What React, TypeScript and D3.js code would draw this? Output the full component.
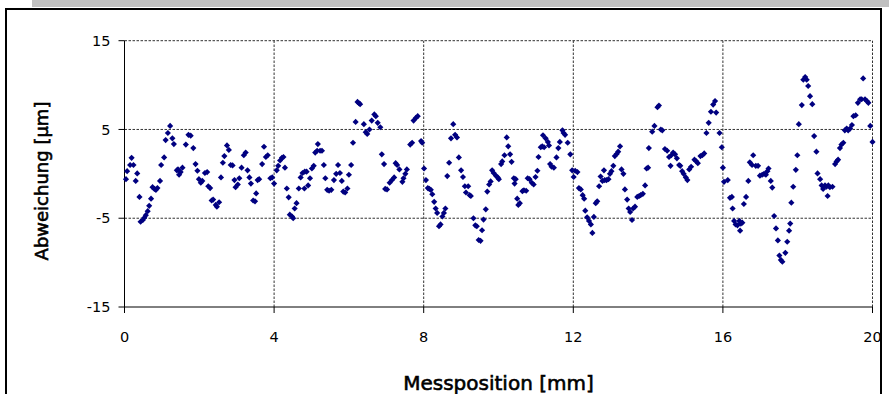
import React from "react";
import * as d3 from "d3";

const positions: number[] = [
  0.04, 0.07, 0.15, 0.19, 0.24, 0.30, 0.34, 0.40, 0.43, 0.49, 0.53, 0.57, 0.62, 0.66, 0.71, 0.75, 0.80, 0.84, 0.88, 0.95,
  0.98, 1.06, 1.10, 1.16, 1.22, 1.28, 1.32, 1.40, 1.43, 1.46, 1.50, 1.55, 1.64, 1.71, 1.77, 1.84, 1.90, 1.95, 1.99, 2.04,
  2.08, 2.15, 2.21, 2.24, 2.29, 2.33, 2.37, 2.44, 2.47, 2.53, 2.58, 2.63, 2.67, 2.74, 2.79, 2.84, 2.89, 2.94, 2.97, 3.03,
  3.07, 3.13, 3.19, 3.24, 3.29, 3.34, 3.38, 3.44, 3.49, 3.52, 3.56, 3.60, 3.68, 3.73, 3.78, 3.83, 3.90, 3.95, 4.00, 4.07,
  4.11, 4.16, 4.21, 4.25, 4.29, 4.34, 4.39, 4.42, 4.48, 4.51, 4.55, 4.60, 4.66, 4.71, 4.76, 4.81, 4.82, 4.87, 4.91, 4.96,
  5.01, 5.06, 5.10, 5.15, 5.17, 5.23, 5.28, 5.33, 5.37, 5.42, 5.47, 5.53, 5.60, 5.66, 5.71, 5.76, 5.81, 5.85, 5.90, 5.96,
  6.00, 6.06, 6.11, 6.18, 6.23, 6.27, 6.30, 6.40, 6.45, 6.49, 6.55, 6.61, 6.68, 6.72, 6.77, 6.84, 6.88, 6.94, 6.97, 7.02,
  7.09, 7.15, 7.21, 7.25, 7.29, 7.35, 7.43, 7.46, 7.51, 7.55, 7.64, 7.69, 7.73, 7.79, 7.84, 7.93, 7.96, 8.01, 8.06, 8.11,
  8.15, 8.19, 8.23, 8.28, 8.32, 8.36, 8.41, 8.45, 8.50, 8.54, 8.58, 8.63, 8.68, 8.73, 8.79, 8.84, 8.89, 8.94, 9.00, 9.05,
  9.10, 9.13, 9.19, 9.23, 9.26, 9.33, 9.38, 9.42, 9.47, 9.52, 9.56, 9.60, 9.66, 9.70, 9.75, 9.79, 9.83, 9.87, 9.93, 9.98,
  10.01, 10.07, 10.10, 10.16, 10.22, 10.26, 10.31, 10.35, 10.41, 10.43, 10.46, 10.50, 10.53, 10.57, 10.64, 10.68, 10.74, 10.78, 10.83, 10.89,
  10.94, 10.99, 11.04, 11.07, 11.13, 11.17, 11.19, 11.22, 11.26, 11.32, 11.35, 11.38, 11.42, 11.48, 11.55, 11.60, 11.64, 11.71, 11.74, 11.78,
  11.85, 11.92, 11.97, 12.01, 12.05, 12.11, 12.15, 12.20, 12.25, 12.29, 12.32, 12.37, 12.42, 12.47, 12.51, 12.55, 12.60, 12.64, 12.69, 12.73,
  12.78, 12.82, 12.84, 12.89, 12.94, 12.98, 13.02, 13.07, 13.11, 13.16, 13.20, 13.25, 13.29, 13.34, 13.38, 13.44, 13.48, 13.52, 13.57, 13.60,
  13.65, 13.71, 13.76, 13.80, 13.86, 13.92, 13.96, 14.00, 14.02, 14.11, 14.17, 14.25, 14.29, 14.34, 14.38, 14.45, 14.51, 14.56, 14.60, 14.62,
  14.67, 14.72, 14.77, 14.83, 14.86, 14.91, 14.95, 15.01, 15.05, 15.10, 15.15, 15.24, 15.28, 15.33, 15.40, 15.45, 15.50, 15.56, 15.62, 15.68,
  15.74, 15.79, 15.82, 15.91, 15.97, 16.00, 16.03, 16.13, 16.19, 16.24, 16.26, 16.30, 16.34, 16.39, 16.44, 16.46, 16.48, 16.52, 16.56, 16.62,
  16.68, 16.72, 16.78, 16.81, 16.88, 16.94, 16.99, 17.05, 17.10, 17.15, 17.19, 17.22, 17.28, 17.32, 17.37, 17.42, 17.47, 17.51, 17.55, 17.59,
  17.67, 17.72, 17.77, 17.80, 17.83, 17.88, 17.95, 17.99, 18.03, 18.11, 18.15, 18.20, 18.24, 18.28, 18.33, 18.39, 18.44, 18.50, 18.53, 18.60,
  18.64, 18.68, 18.73, 18.77, 18.80, 18.82, 18.86, 18.93, 19.00, 19.04, 19.08, 19.13, 19.17, 19.22, 19.26, 19.31, 19.35, 19.40, 19.45, 19.49,
  19.55, 19.61, 19.67, 19.71, 19.75, 19.80, 19.85, 19.89, 19.94, 20.00,
];

const deviations: number[] = [
  -0.6, 0.3, 1.0, 1.8, 1.0, -0.8, 0.05, -2.6, -5.4, -5.2, -4.95, -4.65, -4.2, -3.6, -2.8, -1.5, -1.7, -1.8, -1.6, -0.8,
  1.0, 1.85, 3.8, 4.6, 5.4, 4.0, 3.35, 0.4, 0.5, -0.1, 0.2, 0.7, 3.3, 4.4, 4.3, 2.9, 1.1, 0.35, -0.6, -1.0,
  -0.8, 0.1, 0.2, -1.4, -1.6, -3.0, -2.9, -3.5, -3.7, -3.2, -0.4, 1.25, 2.0, 3.2, 2.7, 1.0, 0.95, -0.7, -1.5, -1.2,
  -0.5, 0.7, 2.1, 2.4, 0.4, -0.4, -1.1, -3.0, -3.1, -2.2, -0.7, -0.6, 1.1, 3.05, 1.9, 2.1, -0.5, -0.4, -1.1, 0.4,
  0.9, 1.5, 1.8, 1.9, 0.7, -1.65, -2.65, -4.6, -4.8, -5.0, -3.9, -3.3, -1.65, -0.4, 0.1, -1.65, 0.25, 0.25, -1.3, -0.5,
  0.6, 0.9, 2.4, 2.6, 3.35, 2.6, 2.6, 1.0, -0.5, -1.8, -1.9, -1.8, -0.7, 0.0, 1.0, 0.1, -0.8, -2.0, -2.1, -1.65,
  -0.1, 1.0, 3.5, 5.85, 8.1, 7.95, 7.85, 5.6, 4.7, 4.5, 5.0, 6.0, 6.7, 6.5, 5.75, 5.25, 2.2, 1.1, -1.7, -1.75,
  -1.0, -0.7, -0.4, 1.2, 1.0, 0.5, -0.9, -0.5, 0.0, 0.5, 3.3, 3.5, 6.0, 6.3, 6.5, 3.7, 3.5, 0.6, -0.7, -1.6,
  -1.7, -1.8, -2.3, -3.15, -3.9, -4.4, -5.9, -5.7, -4.8, -4.4, -3.9, -0.25, 1.25, 4.0, 5.6, 4.4, 4.1, 1.85, 0.4, -0.35,
  -1.4, -2.1, -1.4, -2.4, -2.5, -5.0, -5.8, -5.9, -7.45, -7.55, -6.35, -5.15, -4.0, -2.0, -1.2, -0.85, 0.4, 0.1, -0.2, -0.4,
  -0.6, 1.1, 1.4, 2.1, 4.1, 3.1, 2.2, 1.35, -0.5, -1.1, -0.6, -2.8, -3.5, -3.3, -1.95, -1.85, -1.9, -0.5, -0.6, -1.0,
  -1.2, -0.35, 0.35, 1.9, 3.0, 3.1, 4.35, 3.0, 4.0, 3.6, 3.2, 1.1, 0.8, 0.7, 1.85, 2.9, 3.6, 4.9, 4.6, 4.4,
  3.5, 2.2, 0.4, -0.35, 0.35, 0.2, -1.6, -1.75, -2.4, -2.8, -4.15, -4.9, -5.3, -5.7, -6.65, -4.85, -3.3, -3.1, -1.4, -0.3,
  -0.8, 0.4, -0.7, -0.7, -0.6, 0.0, 0.3, 0.9, 2.0, 2.25, 2.5, 3.1, 0.5, 0.0, -1.75, -2.9, -3.9, -4.3, -5.2, -3.9,
  -3.7, -2.6, -2.5, -2.4, -2.25, -1.3, 0.6, 0.7, 2.9, 4.75, 5.4, 7.5, 7.7, 5.0, 4.9, 2.8, 2.6, 1.9, 0.9, 2.1,
  2.4, 2.2, 1.75, 1.0, 0.9, 0.3, 0.0, -0.4, -0.7, 0.5, 0.8, 1.6, 1.45, 1.2, 2.0, 2.1, 2.3, 4.6, 5.75, 7.0,
  7.8, 8.2, 6.9, 4.6, 3.0, 0.7, -0.9, -0.7, -2.7, -2.6, -3.9, -5.3, -5.7, -5.8, -5.3, -6.4, -5.6, -5.5, -3.4, -2.6,
  -0.8, 1.3, 1.0, 2.1, 0.9, 0.9, -0.2, -0.1, 0.0, -0.1, 0.3, 0.6, -0.8, -1.55, -4.75, -6.15, -7.5, -9.2, -9.7, -9.9,
  -8.9, -7.65, -6.4, -5.6, -3.25, -1.45, 0.45, 2.1, 5.6, 7.75, 10.6, 10.9, 10.6, 9.9, 8.75, 7.85, 4.25, 2.5, 0.05, -0.6,
  -1.3, -1.7, -1.3, -1.45, -2.5, -1.3, -1.5, -1.45, 1.1, 1.4, 1.6, 2.9, 3.3, 3.5, 4.9, 5.1, 4.9, 5.1, 5.5, 6.5,
  6.6, 8.0, 8.4, 8.4, 10.75, 8.4, 8.2, 8.0, 5.4, 3.6,
];

const xTicks: number[] = [0, 4, 8, 12, 16, 20];
const yTicks: number[] = [-15, -5, 5, 15];
const xTitle = "Messposition [mm]";
const yTitle = "Abweichung [µm]";

const W = 889;
const H = 394;
const FONT = "'DejaVu Sans', Verdana, sans-serif";

export default function App() {
  const x = d3.scaleLinear().domain([0, 20]).range([124.5, 872.5]);
  const y = d3.scaleLinear().domain([-15, 15]).range([307, 40.7]);
  const marker = d3.symbol().type(d3.symbolSquare).size(19)() as string;
  const points = positions.map((p, i) => ({ p, v: deviations[i] }));
  const [x0, x1] = x.range();
  const [yb, yt] = y.range();

  return (
    <svg
      width={W}
      height={H}
      style={{ position: "absolute", left: 0, top: 0, background: "#fff" }}
      fontFamily={FONT}
    >
      <rect x={32} y={0} width={W - 32} height={7} fill="#c0c0c0" />
      <rect x={6} y={9} width={875} height={400} fill="#fff" stroke="#000" strokeWidth={2} />

      {/* grid */}
      {xTicks.filter((t) => t !== 0).map((t) => (
        <line key={"gx" + t} x1={x(t)} x2={x(t)} y1={yb} y2={yt} stroke="#333" strokeWidth={1} strokeDasharray="2.5,1.5" />
      ))}
      {yTicks.filter((t) => t !== -15).map((t) => (
        <line key={"gy" + t} x1={x0} x2={x1} y1={y(t)} y2={y(t)} stroke="#333" strokeWidth={1} strokeDasharray="2.5,1.5" />
      ))}

      {/* axes */}
      <line x1={x0} x2={x0} y1={yt} y2={yb} stroke="#000" strokeWidth={1} />
      <line x1={x0} x2={x1} y1={yb} y2={yb} stroke="#000" strokeWidth={1} />
      {yTicks.map((t) => (
        <g key={"ty" + t}>
          <line x1={x0 - 6} x2={x0} y1={y(t)} y2={y(t)} stroke="#000" />
          <text x={x0 - 14} y={y(t)} dy="0.36em" textAnchor="end" fontSize={14.5} fill="#000">
            {t}
          </text>
        </g>
      ))}
      {xTicks.map((t) => (
        <g key={"tx" + t}>
          <line x1={x(t)} x2={x(t)} y1={yb} y2={yb + 6} stroke="#000" />
          <text x={x(t)} y={yb + 35} textAnchor="middle" fontSize={14.5} fill="#000">
            {t}
          </text>
        </g>
      ))}

      {/* points */}
      {points.map((d, i) => (
        <path
          key={i}
          d={marker}
          transform={`translate(${x(d.p)},${y(d.v)}) rotate(45)`}
          fill="#000080"
        />
      ))}

      <text x={(x0 + x1) / 2} y={390} textAnchor="middle" fontSize={20} fill="#000" stroke="#000" strokeWidth={0.6}>
        {xTitle}
      </text>
      <text
        transform={`translate(48,181) rotate(-90)`}
        textAnchor="middle"
        fontSize={18}
        fill="#000"
        stroke="#000"
        strokeWidth={0.6}
      >
        {yTitle}
      </text>
    </svg>
  );
}
